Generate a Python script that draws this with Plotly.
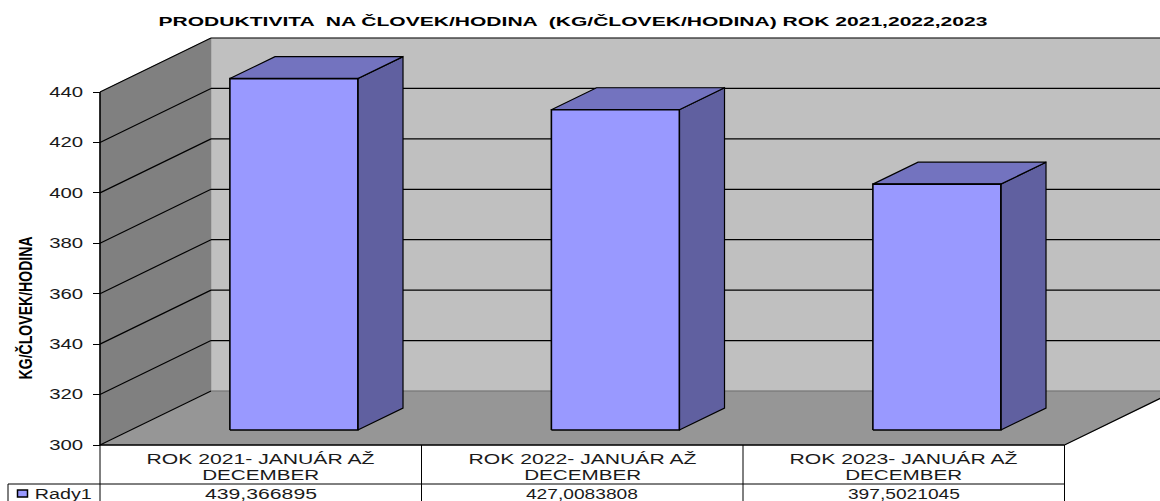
import json
import plotly.graph_objects as go

# ---- data ----
TITLE = "PRODUKTIVITA  NA ČLOVEK/HODINA  (KG/ČLOVEK/HODINA) ROK 2021,2022,2023"
Y_TITLE = "KG/ČLOVEK/HODINA"
SERIES_NAME = "Rady1"
categories = ["ROK 2021- JANUÁR AŽ|DECEMBER", "ROK 2022- JANUÁR AŽ|DECEMBER", "ROK 2023- JANUÁR AŽ|DECEMBER"]
values = [439.366895, 427.0083808, 397.5021045]
value_labels = ["439,366895", "427,0083808", "397,5021045"]
y_ticks = [300, 320, 340, 360, 380, 400, 420, 440]

# ---- geometry of the oblique projection ----
W, H = 1160, 501
PX_LEFT, PX_RIGHT = 100, 1064.5
PX_BASE, PX_TOP = 445, 92
V_MIN, V_MAX = 300, 440
DEPTH_X, DEPTH_Y = 111, 54
px_per_cat = (PX_RIGHT - PX_LEFT) / len(categories)
px_per_val = (PX_BASE - PX_TOP) / (V_MAX - V_MIN)
xr = [-PX_LEFT / px_per_cat, (W - PX_LEFT) / px_per_cat]
yr = [V_MIN - (H - PX_BASE) / px_per_val, V_MIN + PX_BASE / px_per_val]


def P(cat, val, depth=0.0):
    return cat + depth * DEPTH_X / px_per_cat, val + depth * DEPTH_Y / px_per_val


def poly(points, fill, line="#000000", lw=1.0):
    xs, ys = zip(*points)
    xs, ys = list(xs) + [xs[0]], list(ys) + [ys[0]]
    return go.Scatter(x=xs, y=ys, mode="lines", fill="toself", fillcolor=fill,
                      line=dict(color=line, width=lw), hoverinfo="skip", showlegend=False)


def seg(a, b, color="#000000", lw=1.2):
    return go.Scatter(x=[a[0], b[0]], y=[a[1], b[1]], mode="lines",
                      line=dict(color=color, width=lw), hoverinfo="skip", showlegend=False)


n = len(categories)
fig = go.Figure()
# walls and floor
fig.add_trace(poly([P(0, V_MIN, 1), P(n, V_MIN, 1), P(n, V_MAX, 1), P(0, V_MAX, 1)], "#C0C0C0", "#C0C0C0", 0.5))
fig.add_trace(poly([P(0, V_MIN), P(0, V_MIN, 1), P(0, V_MAX, 1), P(0, V_MAX)], "#808080", "#808080", 0.5))
fig.add_trace(poly([P(0, V_MIN), P(n, V_MIN), P(n, V_MIN, 1), P(0, V_MIN, 1)], "#969696", "#969696", 0.5))
# gridlines
for t in y_ticks:
    fig.add_trace(seg(P(0, t), P(0, t, 1)))
    fig.add_trace(seg(P(0, t, 1), P(n, t, 1), "#000000" if t > V_MIN else "#707070"))
fig.add_trace(seg(P(0, V_MIN), P(n, V_MIN), lw=1.6))
fig.add_trace(seg(P(n, V_MIN), P(n, V_MIN, 1)))
fig.add_trace(seg(P(0, V_MIN), P(0, V_MAX), lw=1.6))

# bars
D0, D1 = 0.278, 0.685
BAR_W = 0.398
CENTER = 0.507
for i, v in enumerate(values):
    l, r = i + CENTER - BAR_W / 2, i + CENTER + BAR_W / 2
    fig.add_trace(poly([P(r, V_MIN, D0), P(r, V_MIN, D1), P(r, v, D1), P(r, v, D0)], "#6060A0", lw=1.2))
    fig.add_trace(poly([P(l, v, D0), P(r, v, D0), P(r, v, D1), P(l, v, D1)], "#7373BF", lw=1.2))
    fig.add_trace(poly([P(l, V_MIN, D0), P(r, V_MIN, D0), P(r, v, D0), P(l, v, D0)], "#9999FF", lw=1.6))


def py(p):
    return 1 - p / H


def px(p):
    return p / W


ann = []
widths = {}


def label(text, x, y, size, width, font="Liberation Sans", bold=False, rot=0, color="#1a1a1a"):
    ann.append(dict(text=f"<b>{text}</b>" if bold else text, x=px(x), y=py(y), xref="paper", yref="paper",
                    showarrow=False, xanchor="center", yanchor="middle", textangle=rot,
                    font=dict(family=font, size=size, color=color)))
    widths[text] = width


label(TITLE, 572.5, 21, 13, 829, bold=True, color="#000000")
label(Y_TITLE, 24.5, 308, 19, 143, bold=True, rot=-90, color="#000000")

# data table
shapes = []


def tline(x0, y0, x1, y1):
    shapes.append(dict(type="line", xref="paper", yref="paper", x0=px(x0), y0=py(y0), x1=px(x1), y1=py(y1),
                       line=dict(color="#000000", width=1)))


tline(8, 484, PX_RIGHT, 484)
tline(8, 484, 8, H)
tline(PX_LEFT, PX_BASE, PX_LEFT, H)
for i in range(n):
    xr_i = PX_LEFT + (i + 1) * px_per_cat
    tline(xr_i, PX_BASE, xr_i, H)
    cx = PX_LEFT + (i + 0.5) * px_per_cat
    l1, l2 = categories[i].split("|")
    label(l1, cx, 459, 14, 228)
    label(l2, cx, 475, 14, 117)
    label(value_labels[i], cx, 493.5, 14, 112)
label(SERIES_NAME, 63, 493.5, 14, 57)
shapes.append(dict(type="rect", xref="paper", yref="paper", x0=px(17.5), x1=px(27.5), y0=py(497), y1=py(490),
                   fillcolor="#9999FF", line=dict(color="#000000", width=1.5)))

fig.update_layout(
    width=W, height=H, margin=dict(l=0, r=0, t=0, b=0), paper_bgcolor="#ffffff", plot_bgcolor="#ffffff",
    showlegend=False, annotations=ann, shapes=shapes,
    xaxis=dict(range=xr, visible=False, fixedrange=True),
    yaxis=dict(range=yr, anchor="free", position=PX_LEFT / W, showgrid=False, zeroline=False, showline=False,
               tickmode="array", tickvals=y_ticks, ticktext=[str(t) for t in y_ticks],
               ticks="outside", ticklen=7, tickwidth=1, tickcolor="#000000", ticklabelstandoff=7,
               tickfont=dict(family="Liberation Sans", size=14, color="#1a1a1a"), fixedrange=True),
)

post = """
document.body.style.margin='0';document.body.style.overflow='hidden';
var WID=%s;
function stretch(){
 document.querySelectorAll('.annotation-text').forEach(function(t){
   var w=WID[t.textContent]; if(w){t.setAttribute('textLength',w);t.setAttribute('lengthAdjust','spacingAndGlyphs');}
 });
 document.querySelectorAll('.ytick text').forEach(function(t){
   t.setAttribute('textLength',34);t.setAttribute('lengthAdjust','spacingAndGlyphs');
 });
}
stretch();setTimeout(stretch,50);
var gd=document.getElementById('{plot_id}'); if(gd&&gd.on){gd.on('plotly_afterplot',stretch);}
""" % json.dumps(widths, ensure_ascii=False)

fig.write_html("out.html", post_script=post, config={"displayModeBar": False})
